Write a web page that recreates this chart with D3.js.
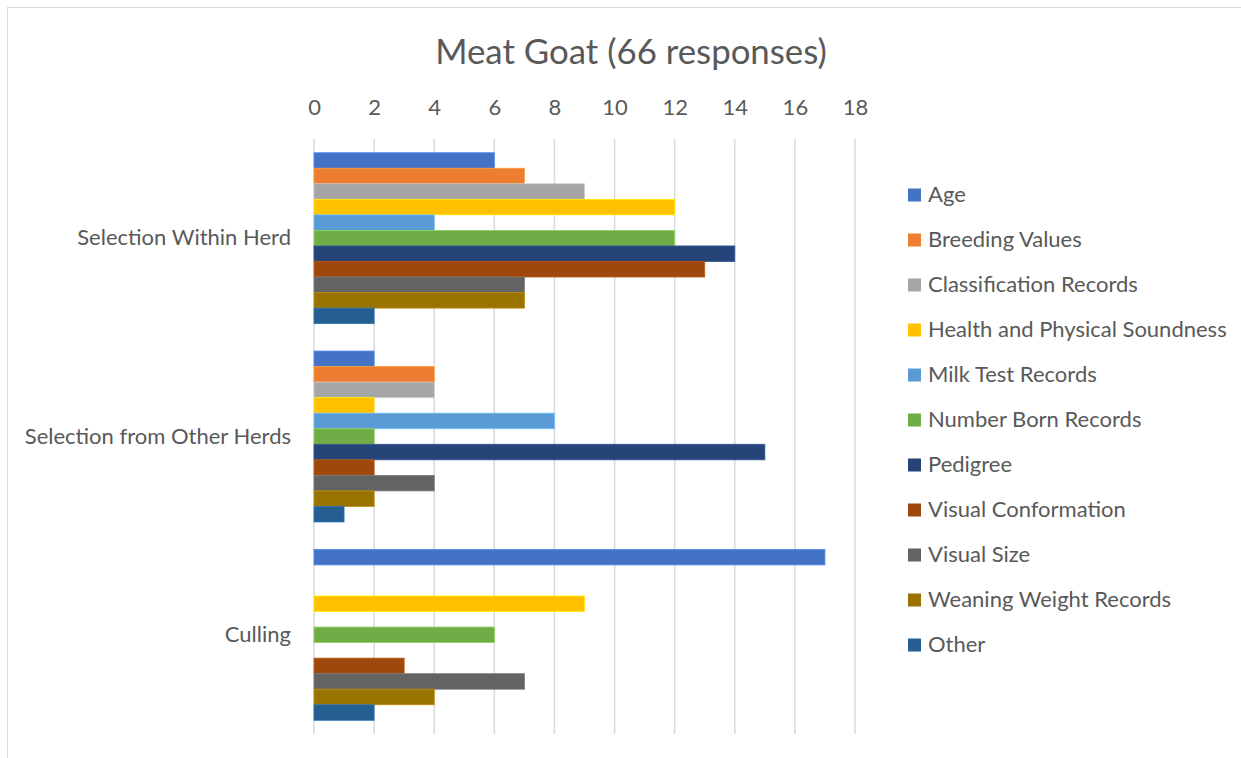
<!DOCTYPE html>
<html>
<head>
<meta charset="utf-8">
<script src="https://cdn.jsdelivr.net/npm/d3@7"></script>
<style>
  html, body { margin: 0; padding: 0; background: #fff; }
  svg { display: block; font-family: Lato, "Open Sans", sans-serif; }
</style>
</head>
<body>
<svg id="chart" width="1241" height="758"></svg>
<script>
// Survey categories (y groups) and the factors asked about (series)
const categories = ["Selection Within Herd", "Selection from Other Herds", "Culling"];
const seriesNames = [
  "Age", "Breeding Values", "Classification Records", "Health and Physical Soundness",
  "Milk Test Records", "Number Born Records", "Pedigree", "Visual Conformation",
  "Visual Size", "Weaning Weight Records", "Other"
];
const seriesColors = [
  "#4472C4", "#ED7D31", "#A5A5A5", "#FFC000", "#5B9BD5", "#70AD47",
  "#264478", "#9E480E", "#636363", "#997300", "#255E91"
];
// Response counts, one array per category, in series order
const withinHerd = [6, 7, 9, 12, 4, 12, 14, 13, 7, 7, 2];
const otherHerds = [2, 4, 4, 2, 8, 2, 15, 2, 4, 2, 1];
const culling    = [17, 0, 0, 9, 0, 6, 0, 3, 7, 4, 2];
const xTicks = [0, 2, 4, 6, 8, 10, 12, 14, 16, 18];

const valuesByCategory = [withinHerd, otherHerds, culling];

const labelSize = 22;
const svg = d3.select("#chart");

// Outer chart frame
svg.append("rect")
  .attr("x", 7.5).attr("y", 7.5)
  .attr("width", 1300).attr("height", 800)
  .attr("fill", "none").attr("stroke", "#d9d9d9").attr("stroke-width", 1);

// Title
svg.append("text")
  .attr("x", 631).attr("y", 64)
  .attr("text-anchor", "middle")
  .attr("font-size", 34.8)
  .attr("fill", "#595959")
  .text("Meat Goat (66 responses)");

const plot = { left: 314, right: 855, top: 139, bottom: 734 };

const x = d3.scaleLinear().domain([0, 18]).range([plot.left, plot.right]);
const y0 = d3.scaleBand().domain(categories).range([plot.top, plot.bottom]).paddingInner(0).paddingOuter(0);
const groupPad = 13.7;
const y1 = d3.scaleBand().domain(seriesNames)
  .range([groupPad, y0.bandwidth() - groupPad]).padding(0);

// Vertical gridlines
svg.append("g").selectAll("line")
  .data(xTicks)
  .join("line")
  .attr("x1", d => x(d)).attr("x2", d => x(d))
  .attr("y1", plot.top).attr("y2", plot.bottom)
  .attr("stroke", "#d9d9d9").attr("stroke-width", 1.5);

// Top value axis (labels only)
const xAxis = d3.axisTop(x).tickValues(xTicks).tickSize(0).tickPadding(0);
const gx = svg.append("g").attr("transform", `translate(0, 115)`).call(xAxis);
gx.select(".domain").remove();
gx.selectAll("text")
  .attr("font-size", labelSize)
  .attr("fill", "#595959")
  .attr("font-family", "Lato, sans-serif");

// Category axis labels
const yAxis = d3.axisLeft(y0).tickSize(0).tickPadding(0);
const gy = svg.append("g").attr("transform", `translate(291, 0)`).call(yAxis);
gy.select(".domain").remove();
gy.selectAll("text")
  .attr("font-size", labelSize)
  .attr("fill", "#595959")
  .attr("font-family", "Lato, sans-serif");

// Bars
const groups = svg.append("g").selectAll("g")
  .data(categories)
  .join("g")
  .attr("transform", d => `translate(0, ${y0(d)})`);

groups.selectAll("rect")
  .data((c, i) => valuesByCategory[i].map((v, j) => ({ name: seriesNames[j], value: v, color: seriesColors[j] })).filter(d => d.value > 0))
  .join("rect")
  .attr("x", x(0))
  .attr("y", d => y1(d.name))
  .attr("width", d => x(d.value) - x(0))
  .attr("height", y1.bandwidth())
  .attr("fill", d => d.color)
  .attr("stroke", d => d3.color(d.color).brighter(0.6))
  .attr("stroke-width", 0.8);

// Legend
const legend = svg.append("g").attr("transform", "translate(908, 195)");
const items = legend.selectAll("g")
  .data(seriesNames)
  .join("g")
  .attr("transform", (d, i) => `translate(0, ${i * 45})`);
items.append("rect")
  .attr("x", 0).attr("y", -6.5)
  .attr("width", 13).attr("height", 13)
  .attr("fill", (d, i) => seriesColors[i]);
items.append("text")
  .attr("x", 20).attr("y", -1)
  .attr("dy", "0.35em")
  .attr("font-size", labelSize)
  .attr("fill", "#595959")
  .text(d => d);
</script>
</body>
</html>
